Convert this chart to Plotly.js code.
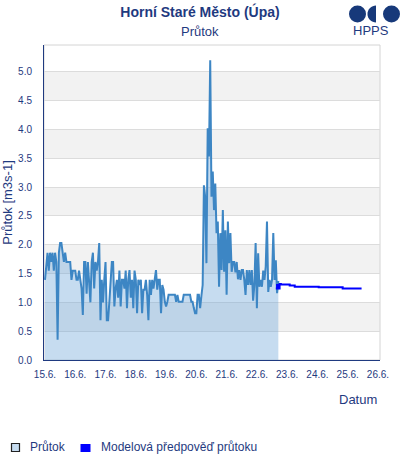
<!DOCTYPE html>
<html>
<head>
<meta charset="utf-8">
<script src="https://cdn.plot.ly/plotly-3.0.1.min.js"></script>
<style>
html,body{margin:0;padding:0;background:#fff;}
#chart{width:400px;height:460px;}
</style>
</head>
<body>
<div id="chart"></div>
<script>
// ---- data ----
const titleText = "Horní Staré Město (Úpa)";
const subtitleText = "Průtok";
const yTitle = "Průtok [m3s-1]";
const xTitle = "Datum";
const seriesNames = ["Průtok", "Modelová předpověď průtoku"];

// observed hourly discharge, starting 15.6. 00:00
const obsStart = "2024-06-15T00:00:00Z";
const obsValues = [
  1.39,1.70,1.86,1.55,1.86,1.70,1.86,1.55,1.86,1.70,0.35,1.86,2.03,2.03,1.86,1.70,1.86,1.70,1.70,1.70,1.70,1.39,1.55,1.55,
  1.55,1.39,1.39,1.55,1.39,1.24,0.78,1.70,1.70,1.15,1.70,1.24,1.00,1.70,1.86,1.24,1.70,1.55,1.70,2.03,0.69,1.39,1.00,1.39,
  1.70,0.69,0.69,1.00,1.39,1.70,1.70,0.93,1.24,1.39,1.08,1.55,0.93,1.39,1.39,1.24,1.55,0.90,1.39,1.56,1.08,1.39,0.90,1.55,
  1.39,0.81,1.39,1.30,1.39,0.81,1.22,1.22,1.39,1.13,0.69,1.39,1.13,1.39,1.24,1.39,1.56,1.22,1.39,1.39,0.81,1.30,1.22,1.01,
  0.93,1.01,1.13,1.13,1.13,1.13,1.13,1.13,1.01,1.13,1.01,1.01,1.01,1.01,1.13,1.13,1.13,1.13,1.13,1.13,1.01,1.01,0.90,0.81,
  0.81,1.13,1.13,0.90,1.11,1.30,3.03,2.83,1.68,4.02,3.53,5.20,2.83,3.27,2.60,3.06,2.20,2.40,1.27,2.20,1.56,2.60,1.53,2.25,
  1.13,2.40,1.68,2.20,1.53,1.70,1.70,1.52,1.70,1.40,1.56,1.39,1.56,1.56,1.39,1.13,1.56,1.30,1.56,1.30,1.56,1.03,1.30,2.03,
  0.90,1.85,1.27,1.39,1.27,1.55,1.39,1.62,2.40,1.18,1.39,1.27,1.39,2.20,1.39,1.73,1.16,1.37
];

// model forecast
const fcTimes = [
  "2024-06-22 15:00","2024-06-22 16:00","2024-06-22 17:00","2024-06-22 18:00","2024-06-22 19:00",
  "2024-06-23 02:00","2024-06-23 06:00","2024-06-24 01:00","2024-06-24 20:00","2024-06-25 11:00"
];
const fcValues = [1.24,1.30,1.24,1.32,1.31,1.29,1.27,1.26,1.24,1.24];

const yTickVals = [0,0.5,1,1.5,2,2.5,3,3.5,4,4.5,5];

// ---- build ----
const navy = "#1f3a80";
const obsColor = "#3d86c4";
const fcColor = "#0000ff";
const t0 = Date.parse(obsStart);
const obsTimes = obsValues.map((v,i)=> t0 + i*3600000);

const traces = [
  {
    x: obsTimes, y: obsValues, type: "scatter", mode: "lines", name: seriesNames[0],
    fill: "tozeroy", fillcolor: "rgba(105,163,216,0.38)",
    line: {color: obsColor, width: 2, shape: "linear"},
    showlegend: false, hoverinfo: "skip"
  },
  {
    x: fcTimes, y: fcValues, type: "scatter", mode: "lines", name: seriesNames[1],
    line: {color: fcColor, width: 2, shape: "hv"},
    showlegend: false, hoverinfo: "skip"
  }
];

// plot geometry (pixels) for decorative shapes
const L = 44, T = 45, W = 336, H = 315;
const px = x => (x - L) / W;
const py = y => (T + H - y) / H;

const shapes = [];
[[0.5,1],[1.5,2],[2.5,3],[3.5,4],[4.5,5]].forEach(b => shapes.push({
  type: "rect", xref: "paper", yref: "y", x0: 0, x1: 1, y0: b[0], y1: b[1],
  fillcolor: "#f2f2f2", line: {width: 0}, layer: "below"
}));
shapes.push({type:"rect", xref:"paper", yref:"paper", x0:0, x1:1, y0:0, y1:1,
  line:{color:"#d4d4d4", width:1}, fillcolor:"rgba(0,0,0,0)", layer:"below"});

// logo
const logoColor = "#17397a";
function circ(cx, cy, r){
  return {type:"circle", xref:"paper", yref:"paper", x0:px(cx-r), x1:px(cx+r), y0:py(cy+r), y1:py(cy-r),
    fillcolor:logoColor, line:{width:0}};
}
shapes.push(circ(357.5, 14, 8.5));
shapes.push(circ(391.5, 14, 8.5));
(function(){
  const cx = 376, cy = 14, r = 8.5;
  let d = "M " + px(cx) + "," + py(cy - r);
  for (let k = 0; k <= 16; k++) {
    const a = -Math.PI/2 - k * Math.PI/16;
    d += " L " + px(cx + r*Math.cos(a)) + "," + py(cy + r*Math.sin(a));
  }
  d += " Z";
  shapes.push({type:"path", xref:"paper", yref:"paper", path:d, fillcolor:logoColor, line:{width:0}});
})();

// legend symbols (drawn manually)
shapes.push({type:"rect", xref:"paper", yref:"paper", x0:px(11.5), x1:px(19.5), y0:py(451.5), y1:py(443.5),
  fillcolor:"#c6dcf0", line:{color:"#222", width:1.2}});
shapes.push({type:"rect", xref:"paper", yref:"paper", x0:px(80.5), x1:px(90.5), y0:py(452), y1:py(444),
  fillcolor:fcColor, line:{width:0}});

const font = "Liberation Sans, Arial, sans-serif";

const layout = {
  width: 400, height: 460,
  margin: {l: L, r: 400 - L - W, t: T, b: 460 - T - H},
  paper_bgcolor: "#fff", plot_bgcolor: "#fff",
  font: {family: font, color: navy},
  showlegend: false,
  title: {
    text: "<b>" + titleText + "</b>", font: {size: 14, color: navy, family: font},
    x: 0.5, xref: "container", xanchor: "center", y: 1 - 12.5/460, yref: "container", yanchor: "middle"
  },
  xaxis: {
    type: "date",
    range: ["2024-06-14 23:13", "2024-06-26 01:36"],
    dtick: 86400000, tick0: "2024-06-15",
    tickformat: "%-d.%-m.",
    tickfont: {size: 10, color: navy, family: font},
    showgrid: false, zeroline: false,
    showline: true, linecolor: navy, linewidth: 1,
    ticks: "outside", ticklen: 5, tickcolor: "rgba(0,0,0,0)",
    automargin: false
  },
  yaxis: {
    range: [0, 5.463],
    tickvals: yTickVals, tickformat: ".1f",
    tickfont: {size: 10, color: navy, family: font},
    showgrid: true, gridcolor: "#dcdcdc", gridwidth: 1,
    zeroline: false,
    showline: true, linecolor: navy, linewidth: 1,
    ticks: "outside", ticklen: 9, tickcolor: "rgba(0,0,0,0)",
    title: {text: yTitle, font: {size: 13, color: navy, family: font}, standoff: 4},
    automargin: false
  },
  shapes: shapes,
  annotations: [
    {text: subtitleText, xref: "paper", yref: "paper", x: px(200), y: py(32), showarrow: false,
     xanchor: "center", yanchor: "middle", font: {size: 13, color: navy, family: font}},
    {text: xTitle, xref: "paper", yref: "paper", x: px(358), y: py(399), showarrow: false,
     xanchor: "center", yanchor: "middle", font: {size: 13, color: navy, family: font}},
    {text: "HPPS", xref: "paper", yref: "paper", x: px(371), y: py(31), showarrow: false,
     xanchor: "center", yanchor: "middle", font: {size: 13, color: navy, family: font}},
    {text: seriesNames[0], xref: "paper", yref: "paper", x: px(28), y: py(447), showarrow: false,
     xanchor: "left", yanchor: "middle", font: {size: 12, color: navy, family: font}},
    {text: seriesNames[1], xref: "paper", yref: "paper", x: px(99), y: py(447), showarrow: false,
     xanchor: "left", yanchor: "middle", font: {size: 12, color: navy, family: font}}
  ]
};

Plotly.newPlot("chart", traces, layout, {staticPlot: true, displayModeBar: false});
</script>
</body>
</html>
